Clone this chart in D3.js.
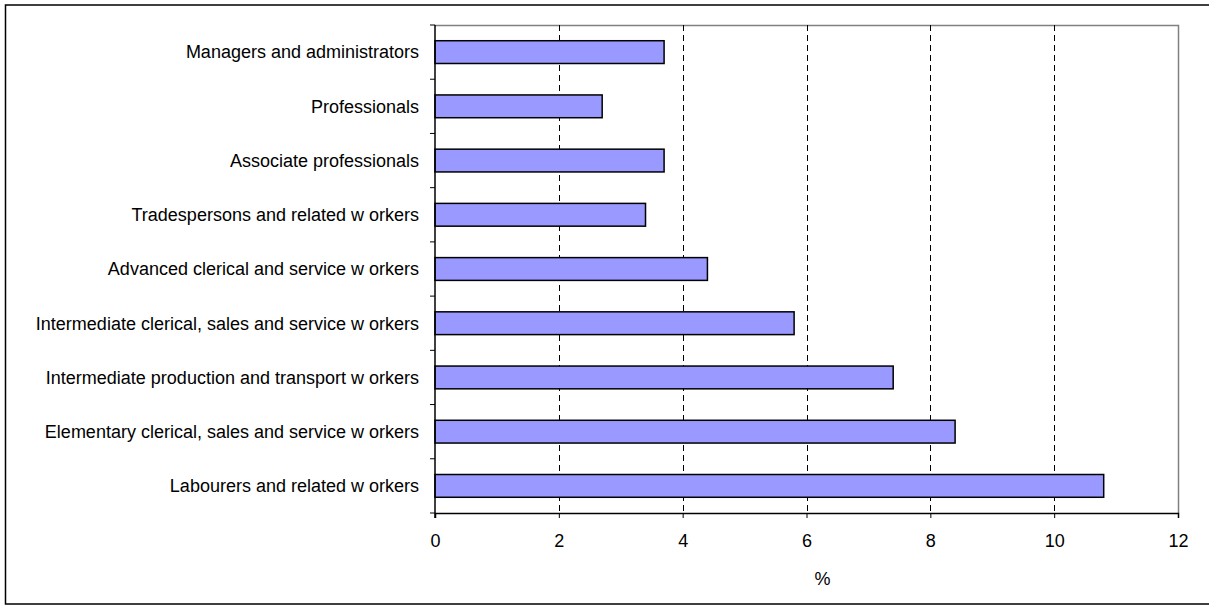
<!DOCTYPE html>
<html>
<head>
<meta charset="utf-8">
<script src="https://cdn.jsdelivr.net/npm/d3@7"></script>
<style>
  body { margin: 0; background: #fff; }
  text { font-family: "Liberation Sans", Arial, sans-serif; fill: #000; }
</style>
</head>
<body>
<div id="chart"></div>
<script>
const categories = [
  "Managers and administrators",
  "Professionals",
  "Associate professionals",
  "Tradespersons and related w orkers",
  "Advanced clerical and service w orkers",
  "Intermediate clerical, sales and service w orkers",
  "Intermediate production and transport w orkers",
  "Elementary clerical, sales and service w orkers",
  "Labourers and related w orkers"
];
const values = [3.7, 2.7, 3.7, 3.4, 4.4, 5.8, 7.4, 8.4, 10.8];
const xTicks = [0, 2, 4, 6, 8, 10, 12];
const xTitle = "%";

const width = 1209, height = 606;
const plotL = 435, plotR = 1178, plotT = 25, plotB = 513;

const svg = d3.select("#chart").append("svg")
  .attr("width", width)
  .attr("height", height);

// outer frame
svg.append("rect")
  .attr("x", 5.5).attr("y", 5)
  .attr("width", 1210).attr("height", 599)
  .attr("fill", "none").attr("stroke", "#000").attr("stroke-width", 1.5);

const x = d3.scaleLinear().domain([0, 12]).range([plotL, plotR]);
const y = d3.scaleBand().domain(categories).range([plotT, plotB]).paddingInner(0.58).paddingOuter(0.29);

// plot area border (top, right)
svg.append("path")
  .attr("d", `M${plotL},${plotT + 0.5}H${plotR + 0.5}V${plotB}`)
  .attr("fill", "none").attr("stroke", "#808080").attr("stroke-width", 1.5);

// dashed gridlines
svg.append("g").selectAll("line")
  .data(xTicks.filter(d => d > 0 && d < 12))
  .join("line")
  .attr("x1", d => Math.round(x(d)) + 0.5).attr("x2", d => Math.round(x(d)) + 0.5)
  .attr("y1", plotT).attr("y2", plotB)
  .attr("stroke", "#000").attr("stroke-dasharray", "6,4");

// bars
svg.append("g").selectAll("rect")
  .data(values)
  .join("rect")
  .attr("x", x(0))
  .attr("y", (d, i) => y(categories[i]))
  .attr("width", d => x(d) - x(0))
  .attr("height", y.bandwidth())
  .attr("fill", "#9999ff")
  .attr("stroke", "#000").attr("stroke-width", 1.5);

// x axis
const xAxis = svg.append("g")
  .attr("transform", `translate(0,${plotB})`)
  .call(d3.axisBottom(x).tickValues(xTicks).tickSize(5).tickPadding(16));
xAxis.attr("font-size", 18).attr("font-family", "Liberation Sans, Arial, sans-serif");
xAxis.select(".domain").attr("stroke", "#000").attr("stroke-width", 1.5);
xAxis.selectAll("text").style("font-size", "18px");

// y axis: ticks at band boundaries
const step = (plotB - plotT) / categories.length;
const yAxis = svg.append("g");
yAxis.append("line")
  .attr("x1", plotL).attr("x2", plotL).attr("y1", plotT).attr("y2", plotB + 5)
  .attr("stroke", "#000").attr("stroke-width", 1.5);
yAxis.selectAll(".tk")
  .data(d3.range(categories.length + 1))
  .join("line")
  .attr("class", "tk")
  .attr("x1", plotL - 5).attr("x2", plotL)
  .attr("y1", i => plotT + i * step).attr("y2", i => plotT + i * step)
  .attr("stroke", "#000");
yAxis.selectAll("text")
  .data(categories)
  .join("text")
  .attr("x", plotL - 16)
  .attr("y", d => y(d) + y.bandwidth() / 2)
  .attr("dy", "0.35em")
  .attr("text-anchor", "end")
  .style("font-size", "18px")
  .text(d => d);

// x title
svg.append("text")
  .attr("x", (plotL + plotR) / 2 + 16)
  .attr("y", 585)
  .attr("text-anchor", "middle")
  .style("font-size", "18px")
  .text(xTitle);
</script>
</body>
</html>
